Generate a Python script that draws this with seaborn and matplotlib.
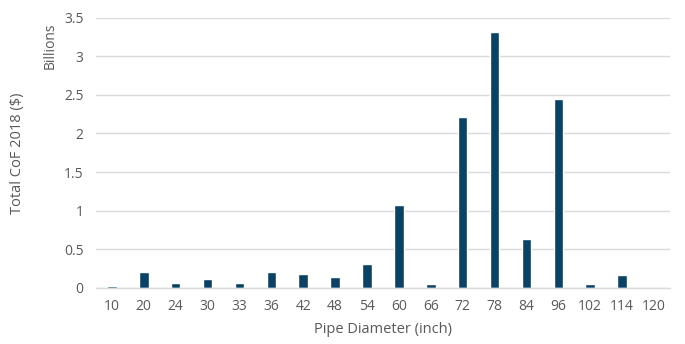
import matplotlib
matplotlib.use("Agg")
import matplotlib.pyplot as plt
import seaborn as sns
import pandas as pd

# Pipe diameters (inch) and total consequence of failure for 2018, in billions of dollars
diameters = ["10", "20", "24", "30", "33", "36", "42", "48", "54", "60",
             "66", "72", "78", "84", "96", "102", "114", "120"]
cof_billions = [0.03, 0.205, 0.07, 0.115, 0.062, 0.20, 0.184, 0.145, 0.305, 1.07,
                0.054, 2.21, 3.31, 0.63, 2.44, 0.045, 0.162, 0.0]

df = pd.DataFrame({"diameter": diameters, "cof": cof_billions})

sns.set_theme(style="white")
plt.rcParams["font.family"] = ["Open Sans", "DejaVu Sans"]

text_color = "#595959"
bar_color = "#0B4163"

fig = plt.figure(figsize=(6.85, 3.44), dpi=100)
ax = fig.add_axes([0.140, 0.163, 0.838, 0.786])

sns.barplot(data=df, x="diameter", y="cof", order=diameters, color=bar_color,
            width=0.3, saturation=1, ax=ax)

ax.set_ylim(0, 3.5)
ax.set_xlim(-0.5, len(diameters) - 0.5)
yticks = [0, 0.5, 1, 1.5, 2, 2.5, 3, 3.5]
ax.set_yticks(yticks)
ax.set_yticklabels(["0", "0.5", "1", "1.5", "2", "2.5", "3", "3.5"])
ax.yaxis.grid(True, color="#D9D9D9", linewidth=1.0)
ax.set_axisbelow(True)
for side in ["top", "right", "left"]:
    ax.spines[side].set_visible(False)
ax.spines["bottom"].set_color("#D9D9D9")
ax.spines["bottom"].set_linewidth(1.0)

ax.tick_params(axis="both", length=0, labelsize=10, colors=text_color)
ax.tick_params(axis="x", pad=8)
ax.tick_params(axis="y", pad=9)

ax.set_xlabel("Pipe Diameter (inch)", fontsize=10.5, color=text_color, labelpad=6)
ax.set_ylabel("")
fig.text(0.025, 0.555, "Total CoF 2018 ($)", rotation=90, fontsize=10.5,
         color=text_color, ha="center", va="center")
fig.text(0.073, 0.868, "Billions", rotation=90, fontsize=10,
         color=text_color, ha="center", va="center")

fig.savefig("out.png", dpi=100, facecolor="white")
